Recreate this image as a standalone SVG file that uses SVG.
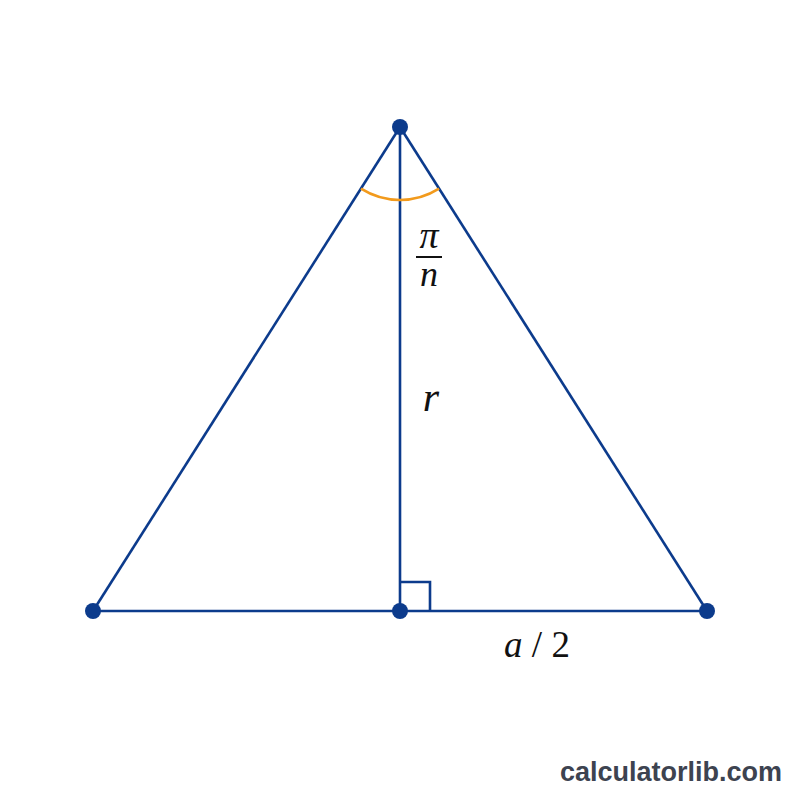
<svg xmlns="http://www.w3.org/2000/svg" width="800" height="800" viewBox="0 0 800 800">
<style>
.ln{stroke:#0c3b8c;stroke-width:2.6;fill:none}
.dot{fill:#0c3b8c}
.m{font-family:"Liberation Serif",serif;font-style:italic;fill:#111}
</style>
<rect width="800" height="800" fill="#ffffff"/>
<g id="connectors">
<line class="ln" x1="400" y1="127" x2="93" y2="611"/>
<line class="ln" x1="400" y1="127" x2="707" y2="611"/>
<line class="ln" x1="400" y1="127" x2="400" y2="611"/>
<line class="ln" x1="93" y1="611" x2="707" y2="611"/>
<polyline class="ln" points="400,582 430,582 430,611"/>
<path d="M361,188.7 A73,73 0 0 0 439,188.7" stroke="#f29a1c" stroke-width="2.6" fill="none"/>
</g>
<g id="apex"><circle class="dot" cx="400" cy="127" r="8"/></g>
<g id="left"><circle class="dot" cx="93" cy="611" r="8"/></g>
<g id="center"><circle class="dot" cx="400" cy="611" r="8"/></g>
<g id="right"><circle class="dot" cx="707" cy="611" r="8"/></g>
<g id="labels">
<text class="m" x="429" y="248" font-size="38" text-anchor="middle" font-style="normal">π</text>
<line x1="416" y1="257" x2="442" y2="257" stroke="#111" stroke-width="2"/>
<text class="m" x="429" y="286" font-size="36" text-anchor="middle">n</text>
<text class="m" x="431" y="411" font-size="42" text-anchor="middle">r</text>
<text class="m" x="537" y="657" font-size="37" text-anchor="middle">a<tspan font-style="normal"> / 2</tspan></text>
<text x="782" y="781" font-family="Liberation Sans,sans-serif" font-weight="bold" font-size="27" fill="#3d4350" text-anchor="end">calculatorlib.com</text>
</g>
</svg>
